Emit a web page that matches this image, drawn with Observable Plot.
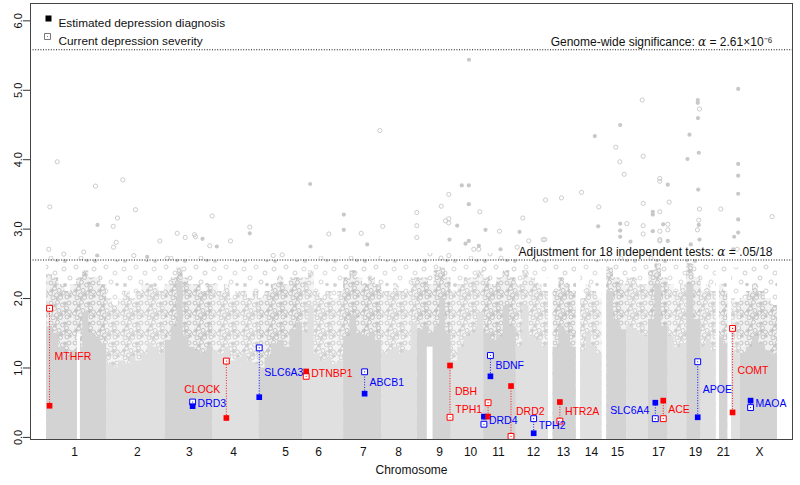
<!DOCTYPE html>
<html><head><meta charset="utf-8">
<script src="https://cdn.jsdelivr.net/npm/d3@7"></script>
<script src="https://cdn.jsdelivr.net/npm/@observablehq/plot@0.6"></script>
<style>
body{margin:0;background:#fff}
#chart{width:800px;height:485px}
</style>
</head><body><div id="chart"></div>
<script>
// ---------- data ----------
const chromNames = ["1","2","3","4","5","6","7","8","9","10","11","12","13","14","15","16","17","18","19","20","21","22","X"];
const chromLengths = [249.25,243.2,198.0,191.15,180.9,171.1,159.1,146.4,141.2,135.5,135.0,133.85,115.2,107.35,102.5,90.35,81.2,78.1,59.1,63.0,48.1,51.3,155.3];
const chromDataStart = [0,0,0,0,0,0,0,0,0,0,0,0,19,19,20,0,0,0,0,0,14,16,0];
// solid core height of the -log10(p) cloud, in evenly spaced bins along each chromosome
const coreProfiles = [
  [1.6,1.5,1.3,1.15,1.25,1.3,1.8,1.5,1.45,1.35],
  [1.05,1.0,1.1,1.05,1.15,1.1,1.2,1.35,1.3,1.2],
  [1.4,1.6,2.25,1.45,1.3,1.25,1.2,1.3],
  [1.25,1.2,1.3,1.1,1.15,1.2,1.1,1.05],
  [1.0,1.15,1.35,1.4,1.3,1.55,1.65],
  [1.5,1.9,1.2,1.1,1.15,1.05,1.1],
  [1.45,1.75,1.5,1.45,1.5,1.4],
  [1.2,1.25,1.3,1.2,1.25,1.65],
  [1.55,1.6,1.5,1.6,2.0,1.5],
  [1.1,1.3,1.45,1.5,1.8],
  [1.5,1.4,1.45,1.9,1.6],
  [1.3,1.9,1.45,1.4,1.3],
  [1.3,1.6,1.5,1.3],
  [1.25,1.5,1.3,1.2],
  [2.1,1.7,1.55],
  [1.6,1.55,1.5,1.45],
  [1.7,2.2,1.6],
  [1.45,1.3,1.35],
  [2.2,1.7],
  [1.3,1.4,1.25],
  [1.45,1.35],
  [1.25,1.2],
  [1.2,1.3,1.45,1.35,1.25,1.2]
];
// top of the densely scattered zone, same bins
const denseProfiles = [
  [2.35,2.3,2.2,2.1,2.2,2.3,2.4,2.3,2.3,2.2],
  [2.0,1.9,2.0,2.1,2.0,2.1,2.2,2.2,2.15,2.1],
  [2.2,2.3,2.45,2.3,2.2,2.2,2.1,2.2],
  [2.2,2.1,2.2,2.0,2.1,2.1,2.0,2.1],
  [2.0,2.1,2.2,2.3,2.2,2.3,2.3],
  [2.3,2.4,2.1,2.0,2.1,2.0,2.1],
  [2.3,2.4,2.3,2.2,2.3,2.2],
  [2.1,2.1,2.2,2.1,2.1,2.3],
  [2.3,2.3,2.2,2.4,2.45,2.3],
  [2.1,2.2,2.3,2.3,2.4],
  [2.3,2.2,2.3,2.4,2.3],
  [2.2,2.4,2.3,2.2,2.1],
  [2.1,2.3,2.2,2.1],
  [2.0,2.2,2.1,2.0],
  [2.45,2.3,2.2],
  [2.3,2.3,2.2,2.2],
  [2.4,2.5,2.3],
  [2.2,2.1,2.2],
  [2.5,2.3],
  [2.1,2.2,2.1],
  [2.2,2.1],
  [2.0,1.95],
  [2.0,2.1,2.2,2.1,2.0,1.9]
];
// top of the sparse fringe, per chromosome
const sparseTops = [2.6,2.55,2.6,2.55,2.55,2.6,2.6,2.55,2.65,2.6,2.65,2.55,2.5,2.55,2.6,2.6,2.65,2.55,2.65,2.5,2.5,2.45,2.5];
// centromere gaps: chromosome, from Mb, to Mb, height
const gapChroms = ["1","9"];
const gapFrom = [128,42];
const gapTo = [140,66];
const gapTop = [1.5,1.3];

// isolated background SNPs above the cloud: genome position (Mb), -log10(p), filled (1) / open (0)
const peakPos = [43.6,12.9,202.7,316.2,368.9,211,276.3,294.1,288.7,277.5,8.7,71,154,209.8,361.9,417.5,500.6,469.9,542.2,575.4,614,618.2,647.3,687.6,677.6,706.7,763.6,843.8,843.8,941,978.4,1094.7,1096,1172,1234.3,1234.3,1306.6,1331.5,1383.9,1396.3,
  1754.4,2872.8,2474,2705,2705,2712.1,2705.8,2382.6,2670.5,2277.1,2364.4,2709.2,2478.2,2662.2,2380.9,2872.8,2399.2,2872.8,2547.2,2547.2,2580.4,1724.5,1753.6,1670.5,2706.7,2221.9,2872.8,2138.8,2072.3,1753.6,1639,2586.2,2478.2,2293.7,1537.6,1799.3,2518,2547.2,2518,2712.1,2800.6,3014.1,1978,1656.8,1670.5,1670.5,1705.4,1537.6,2382.6,2410,2478.2,2561.3,2580.4,2709.2,2709.2,2872.8,1823,1881.2,1964.3,1537.6,1673.5,1753.6,2291.2,2382.6,2382.6,2518,2547.2,2580.4,2703.8,2872.8,2856.2,2062.7,2069.4,2002.9,2425.4,2547.2,2547.2,2580.4,2675.9,2712.1,2478.2,1774.4,1795.3,1885.4,1954.7,2852.1,2868.7,1670.5,1739.9,1795.2];
const peakVal = [3.97,3.32,3.62,3.71,3.28,3.06,3.04,3.16,2.81,2.74,2.71,2.64,2.67,2.62,2.62,2.6,2.58,2.83,2.94,2.88,2.92,2.89,2.86,3.19,2.76,2.75,2.83,3.03,2.94,2.62,2.63,3.65,2.75,2.93,3.21,2.99,2.94,2.78,4.42,3.04,
  5.44,5.02,4.86,4.86,4.82,4.73,4.60,4.50,4.36,4.34,4.18,4.10,4.05,4.01,3.97,3.94,3.79,3.77,3.73,3.69,3.64,3.63,3.63,3.50,3.57,3.53,3.51,3.45,3.42,3.36,3.33,3.39,3.37,3.32,3.24,3.25,3.25,3.25,3.21,3.29,3.29,3.18,3.16,3.12,3.15,3.09,3.05,3.05,3.08,3.08,3.05,3.07,3.07,3.13,3.06,3.14,2.99,2.97,2.96,2.88,2.85,2.83,3.04,2.98,2.89,2.97,2.97,2.99,2.99,2.95,2.89,2.85,2.85,2.83,2.82,2.85,2.83,2.83,2.78,2.85,2.93,2.71,2.71,2.71,2.74,2.71,2.71,2.62,2.79,2.76];
const peakFill = [0,0,0,0,0,1,0,0,0,0,0,0,0,1,0,1,0,0,0,0,0,0,1,0,0,1,0,0,1,0,0,1,1,0,1,1,0,1,0,0,
  1,1,0,1,1,0,1,1,1,1,0,1,0,1,0,1,0,1,0,0,1,1,1,0,1,0,1,0,0,1,0,0,0,0,0,0,1,0,1,0,0,0,0,0,0,0,1,0,1,0,0,1,0,0,1,1,1,0,1,0,1,1,1,1,1,1,0,0,0,1,1,0,0,0,1,0,0,1,1,1,0,0,0,1,0,1,0,0,1,1];

// candidate genes
const geneNames = ["MTHFR","DRD3","CLOCK","SLC6A3","DTNBP1","ABCB1","DBH","DRD4","TPH1","BDNF","DRD2","TPH2","HTR2A","SLC6A4","ACE","APOE","COMT","MAOA"];
const geneChrom = ["1","3","4","5","6","7","9","11","11","11","11","12","13","17","17","19","22","X"];
const geneMb = [11.8,113.8,56.0,1.4,15.5,87.2,136.5,0.64,18.0,27.7,113.3,72.4,47.4,28.5,61.5,45.4,19.9,43.5];
const diagnosisP = [0.456,0.45,0.28,0.58,0.95,0.63,1.036,0.30,0.30,0.88,0.74,0.06,0.51,0.50,0.53,0.29,0.36,0.53];
const severityP = [1.86,0.51,1.10,1.29,0.88,0.945,0.29,0.19,0.50,1.18,0.015,0.27,0.235,0.27,0.27,1.09,1.57,0.43];
const geneColor = ["red","blue","red","blue","red","blue","red","blue","red","blue","red","blue","red","blue","red","blue","red","blue"];
const labelSide = ["right","right","left","right","right","right","right","right","left","right","right","right","right","left","right","right","right","right"];

// significance thresholds
const thresholdValues = [-Math.log10(2.61e-6), -Math.log10(0.05/18)];
const thresholdTexts = ["Genome-wide significance: \u03B1 = 2.61\u00D710\u207B\u2076", "Adjustment for 18 independent tests: \u03B1 = .05/18"];

// x-axis tick labels (genome position, Mb)
const tickChroms = ["1","2","3","4","5","6","7","8","9","10","11","12","13","14","15","17","19","21","X"];
const tickPositions = [115.5,377,593,776,992,1130,1316,1462,1632,1761,1877,2022,2147,2263,2371,2542,2695,2811,2961];

const legendLabels = ["Estimated depression diagnosis","Current depression severity"];

// ---------- derived tables ----------
const cumStart = chromLengths.map((_, i) => d3.sum(chromLengths.slice(0, i)));
const idx = c => chromNames.indexOf(c);

const binData = [];
chromNames.forEach((c, i) => {
  const s = cumStart[i] + chromDataStart[i], e = cumStart[i] + chromLengths[i];
  const prof = coreProfiles[i], dens = denseProfiles[i], w = (e - s) / prof.length;
  prof.forEach((v, j) => binData.push({chr: c, odd: i % 2 === 0, x: s + j * w, v, d: dens[j]}));
  binData.push({chr: c, odd: i % 2 === 0, x: e, v: prof[prof.length - 1], d: dens[dens.length - 1]});
});
const zones = chromNames.map((c, i) => ({
  chr: c, odd: i % 2 === 0,
  x1: cumStart[i] + chromDataStart[i], x2: cumStart[i] + chromLengths[i], sparse: sparseTops[i]
}));
const gaps = gapChroms.map((c, i) => ({x1: cumStart[idx(c)] + gapFrom[i], x2: cumStart[idx(c)] + gapTo[i], top: gapTop[i]}));
const peaks = peakPos.map((p, i) => ({x: p, v: peakVal[i], filled: peakFill[i] === 1}));
const genes = geneNames.map((n, i) => ({
  name: n, x: cumStart[idx(geneChrom[i])] + geneMb[i],
  diag: diagnosisP[i], sev: severityP[i], mid: (diagnosisP[i] + severityP[i]) / 2,
  color: geneColor[i], side: labelSide[i]
}));
const thresholds = thresholdValues.map((v, i) => ({v, text: thresholdTexts[i]}));
const tickLabel = new Map(tickPositions.map((p, i) => [p, tickChroms[i]]));

const yMin = -0.03, yMax = 6.25;
const font = "'Liberation Sans', Arial, Helvetica, sans-serif";

const plot = Plot.plot({
  width: 800, height: 485,
  marginLeft: 30, marginRight: 8, marginTop: 3, marginBottom: 46,
  x: {domain: [-67.3, 3098.5]},
  y: {domain: [yMin, yMax]},
  color: {type: "identity"},
  style: {fontFamily: font, fontSize: "11px", background: "white", color: "#111"},
  marks: [
    // sparse fringe, dense scatter zone, solid core
    Plot.rect(zones, {x1: "x1", x2: "x2", y1: yMin, y2: "sparse", fill: d => d.odd ? "url(#sparseOdd)" : "url(#sparseEven)", shapeRendering: "crispEdges"}),
    Plot.areaY(binData.filter(d => d.odd), {x: "x", y1: yMin, y2: "d", z: "chr", curve: "step-after", fill: "url(#denseOdd)"}),
    Plot.areaY(binData.filter(d => !d.odd), {x: "x", y1: yMin, y2: "d", z: "chr", curve: "step-after", fill: "url(#denseEven)"}),
    Plot.areaY(binData.filter(d => d.odd), {x: "x", y1: yMin, y2: "v", z: "chr", curve: "step-after", fill: "#d3d3d3"}),
    Plot.areaY(binData.filter(d => !d.odd), {x: "x", y1: yMin, y2: "v", z: "chr", curve: "step-after", fill: "#e0e0e0"}),
    Plot.rect(gaps, {x1: "x1", x2: "x2", y1: yMin, y2: "top", fill: "white"}),
    // isolated points
    Plot.dot(peaks.filter(d => !d.filled), {x: "x", y: "v", r: 2.1, stroke: "#c6c6c6", strokeWidth: 0.9, fill: "none"}),
    Plot.dot(peaks.filter(d => d.filled), {x: "x", y: "v", r: 2.1, fill: "#c8c8c8"}),
    // thresholds
    Plot.ruleY(thresholds, {y: "v", stroke: "#111", strokeWidth: 1.1, strokeDasharray: "1,1.6"}),
    Plot.text(thresholds, {y: "v", text: "text", frameAnchor: "right", textAnchor: "end", dx: -20, dy: -8, fontSize: 12, fill: "#111"}),
    // candidate genes
    Plot.ruleX(genes, {x: "x", y1: "diag", y2: "sev", stroke: "color", strokeWidth: 0.9, strokeDasharray: "1,1.6"}),
    Plot.dot(genes, {x: "x", y: "sev", symbol: "square", r: 3.3, stroke: "color", fill: "white", strokeWidth: 1}),
    Plot.dot(genes, {x: "x", y: "sev", r: 0.6, fill: "color"}),
    Plot.dot(genes, {x: "x", y: "diag", symbol: "square", r: 3.2, fill: "color"}),
    Plot.text(genes.filter(d => d.side === "right"), {x: "x", y: "mid", text: "name", fill: "color", textAnchor: "start", dx: 5, fontSize: 10.5}),
    Plot.text(genes.filter(d => d.side === "left"), {x: "x", y: "mid", text: "name", fill: "color", textAnchor: "end", dx: -6, fontSize: 10.5}),
    // legend
    Plot.dot([legendLabels[0]], {frameAnchor: "top-left", dx: 18, dy: 15, symbol: "square", r: 3.4, fill: "black"}),
    Plot.dot([legendLabels[1]], {frameAnchor: "top-left", dx: 17, dy: 33, symbol: "square", r: 3.4, stroke: "#777", fill: "white", strokeWidth: 1}),
    Plot.dot([legendLabels[1]], {frameAnchor: "top-left", dx: 17, dy: 33, r: 0.6, fill: "#777"}),
    Plot.text([legendLabels[0]], {frameAnchor: "top-left", dx: 28, dy: 15, textAnchor: "start", fontSize: 11.8, fill: "#111"}),
    Plot.text([legendLabels[1]], {frameAnchor: "top-left", dx: 28, dy: 33, textAnchor: "start", fontSize: 11.8, fill: "#111"}),
    // axes & frame
    Plot.frame({stroke: "#444", strokeWidth: 1}),
    Plot.axisY({ticks: [0,1,2,3,4,5,6], tickSize: 7, tickPadding: 2, tickRotate: -90, label: null, fontSize: 11, stroke: "#333"}),
    Plot.axisX(tickPositions, {tickSize: 0, tickPadding: 8, tickFormat: d => tickLabel.get(d), label: null, fontSize: 12}),
    Plot.text(["Chromosome"], {frameAnchor: "bottom", dy: 34, fontSize: 12, fill: "#111"})
  ]
});

// texture patterns for the scattered part of the point cloud
const denseCircles = (stroke, fill) => `
  <g fill="none" stroke="${stroke}" stroke-width="0.95">
    <circle cx="3" cy="3" r="2"/><circle cx="9.5" cy="2.3" r="2"/><circle cx="14.5" cy="5" r="2"/><circle cx="21" cy="3" r="2"/>
    <circle cx="6.5" cy="8.5" r="2"/><circle cx="11" cy="10.5" r="2"/><circle cx="18.5" cy="8" r="2"/><circle cx="2.5" cy="13.5" r="2"/>
    <circle cx="8.5" cy="15" r="2"/><circle cx="15.5" cy="13" r="2"/><circle cx="21.5" cy="12" r="2"/><circle cx="5" cy="17.8" r="2"/>
    <circle cx="12.5" cy="17.5" r="2"/><circle cx="19" cy="17" r="2"/>
  </g>
  <g fill="${fill}">
    <circle cx="17" cy="3.5" r="2"/><circle cx="4" cy="10.5" r="2"/><circle cx="13" cy="14.5" r="2"/><circle cx="22" cy="16" r="1.8"/>
    <circle cx="7" cy="5.5" r="2"/><circle cx="17.5" cy="11" r="2"/><circle cx="9" cy="18.5" r="1.5"/>
  </g>`;
const sparseCircles = (stroke, fill) => `
  <g fill="none" stroke="${stroke}" stroke-width="0.9">
    <circle cx="4" cy="5" r="2"/><circle cx="16" cy="3" r="2"/><circle cx="25" cy="9" r="2"/><circle cx="10" cy="14" r="2"/><circle cx="21" cy="18" r="2"/>
  </g>
  <g fill="${fill}"><circle cx="5" cy="21" r="2"/><circle cx="27" cy="20.5" r="1.8"/></g>`;
d3.select(plot).insert("defs", ":first-child").html(`
<pattern id="denseOdd" patternUnits="userSpaceOnUse" width="24" height="20"><rect width="24" height="20" fill="#f1f1f1"/>${denseCircles("#bfbfbf", "#c6c6c6")}</pattern>
<pattern id="denseEven" patternUnits="userSpaceOnUse" width="24" height="20"><rect width="24" height="20" fill="#f5f5f5"/>${denseCircles("#cbcbcb", "#d1d1d1")}</pattern>
<pattern id="sparseOdd" patternUnits="userSpaceOnUse" width="30" height="24"><rect width="30" height="24" fill="#fff"/>${sparseCircles("#c8c8c8", "#cbcbcb")}</pattern>
<pattern id="sparseEven" patternUnits="userSpaceOnUse" width="30" height="24"><rect width="30" height="24" fill="#fff"/>${sparseCircles("#d2d2d2", "#d4d4d4")}</pattern>`);

// italic alpha in threshold labels
d3.select(plot).selectAll("text").each(function() {
  const t = this.textContent;
  if (t.includes("\u03B1") && this.children.length === 0) {
    const [a, b] = t.split("\u03B1");
    const sel = d3.select(this);
    sel.text(null);
    sel.append("tspan").text(a);
    sel.append("tspan").attr("font-style", "italic").attr("font-family", "'DejaVu Serif', serif").text("\u03B1");
    sel.append("tspan").text(b);
  }
});

document.getElementById("chart").appendChild(plot);
</script>
</body></html>
